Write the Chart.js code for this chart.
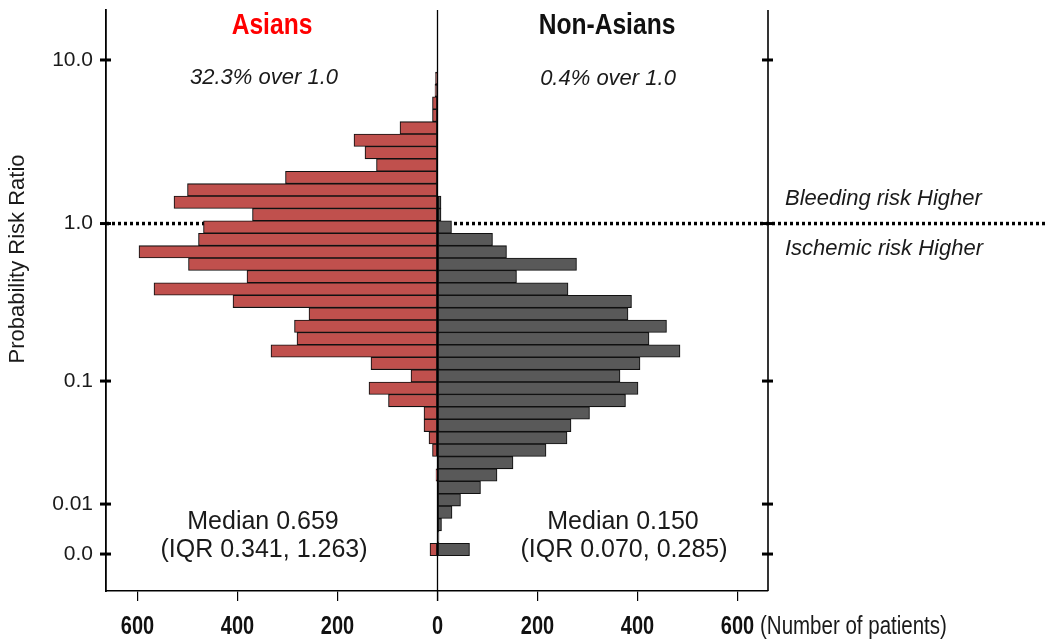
<!DOCTYPE html>
<html>
<head>
<meta charset="utf-8">
<script src="https://cdn.jsdelivr.net/npm/chart.js@4.4.1/dist/chart.umd.min.js"></script>
<style>
  html, body { margin: 0; padding: 0; background: #fff; }
  #wrap { width: 1046px; height: 639px; position: relative; }
</style>
</head>
<body>
<div id="wrap"><canvas id="riskChart"></canvas></div>
<script>
// histogram rows from top (highest risk ratio) to bottom, patient counts per bin
const asians = [4, 5, 10, 10, 75, 167, 145, 122, 304, 500, 527, 370, 468, 478, 597, 498, 381, 567, 409, 257,
  286, 281, 333, 133, 53, 137, 98, 27, 27, 17, 10, 0, 3, 0, 0, 0, 0, 0, 15];
const nonAsians = [0, 0, 0, 0, 0, 0, 0, 0, 0, 0, 7, 7, 28, 110, 138, 278, 158, 261, 388, 381,
  458, 423, 485, 405, 365, 401, 376, 304, 267, 259, 217, 151, 119, 86, 46, 29, 8, 3, 64];

// risk ratio ticks, placed in row units
const yTickPos = [-1.47, 11.72, 24.42, 34.34, 38.37];
const yTickLabels = ["10.0", "1.0", "0.1", "0.01", "0.0"];
const xTickValues = [-600, -400, -200, 0, 200, 400, 600];
const thresholdTick = 11.72;

const FONT = "'Liberation Sans', Arial, Helvetica, sans-serif";

function text(ctx, str, x, y, font, color, align = "center", squeeze = 1) {
  ctx.save();
  ctx.font = font;
  ctx.fillStyle = color;
  ctx.textAlign = align;
  ctx.textBaseline = "middle";
  ctx.translate(x, y);
  ctx.scale(squeeze, 1);
  ctx.fillText(str, 0, 0);
  ctx.restore();
}

const framePlugin = {
  id: "frame",
  beforeDatasetsDraw(chart) {
    const { ctx, chartArea: a, scales } = chart;
    const yy = scales.y.getPixelForValue(thresholdTick);
    ctx.save();
    ctx.strokeStyle = "#000";
    ctx.lineWidth = 3.5;
    ctx.setLineDash([3, 3]);
    ctx.beginPath();
    ctx.moveTo(a.left, yy);
    ctx.lineTo(chart.width, yy);
    ctx.stroke();
    ctx.restore();
  },
  afterDatasetsDraw(chart) {
    const { ctx, chartArea: a, scales } = chart;
    const x0 = scales.x.getPixelForValue(0);
    ctx.save();
    ctx.strokeStyle = "#000";
    ctx.lineWidth = 1.3;
    ctx.beginPath();
    ctx.moveTo(x0, a.top);
    ctx.lineTo(x0, a.bottom + 10);
    ctx.stroke();
    ctx.lineWidth = 1.6;
    ctx.beginPath();
    ctx.moveTo(a.right, a.top);
    ctx.lineTo(a.right, a.bottom);
    ctx.stroke();
    // tick marks crossing both vertical axes
    ctx.lineWidth = 3;
    yTickPos.forEach((v) => {
      const py = scales.y.getPixelForValue(v);
      [a.left, a.right].forEach((ax) => {
        ctx.beginPath();
        ctx.moveTo(ax - 6, py);
        ctx.lineTo(ax + 5, py);
        ctx.stroke();
      });
    });
    ctx.restore();
  },
  afterDraw(chart) {
    const { ctx, chartArea: a, scales } = chart;
    const x = scales.x;
    // condensed bold count labels under the x axis
    x.ticks.forEach((t) => {
      text(ctx, String(Math.abs(t.value)), x.getPixelForValue(t.value), a.bottom + 36,
        `bold 25px ${FONT}`, "#111", "center", 0.8);
    });
    text(ctx, "(Number of patients)", 760, 627, `25px ${FONT}`, "#1a1a1a", "left", 0.82);

    text(ctx, "Asians", x.getPixelForValue(-331), 26, `bold 30px ${FONT}`, "#ff0000", "center", 0.82);
    text(ctx, "Non-Asians", x.getPixelForValue(339), 26, `bold 30px ${FONT}`, "#111", "center", 0.82);
    text(ctx, "32.3% over 1.0", x.getPixelForValue(-347), 78, `italic 22px ${FONT}`, "#1a1a1a");
    text(ctx, "0.4% over 1.0", x.getPixelForValue(341), 79, `italic 22px ${FONT}`, "#1a1a1a");
    text(ctx, "Median 0.659", x.getPixelForValue(-349), 522, `25px ${FONT}`, "#1a1a1a");
    text(ctx, "(IQR 0.341, 1.263)", x.getPixelForValue(-347), 550, `25px ${FONT}`, "#1a1a1a");
    text(ctx, "Median 0.150", x.getPixelForValue(371), 522, `25px ${FONT}`, "#1a1a1a");
    text(ctx, "(IQR 0.070, 0.285)", x.getPixelForValue(373), 550, `25px ${FONT}`, "#1a1a1a");
    text(ctx, "Bleeding risk Higher", 785, 199, `italic 22px ${FONT}`, "#1a1a1a", "left");
    text(ctx, "Ischemic risk Higher", 785, 249, `italic 22px ${FONT}`, "#1a1a1a", "left");

    ctx.save();
    ctx.translate(18, 259);
    ctx.rotate(-Math.PI / 2);
    text(ctx, "Probability Risk Ratio", 0, 0, `22px ${FONT}`, "#1a1a1a");
    ctx.restore();
  },
};

new Chart(document.getElementById("riskChart"), {
  type: "bar",
  data: {
    datasets: [
      {
        label: "Asians",
        data: asians.map((v, row) => ({ x: -v, y: row })),
        backgroundColor: "#c0504d",
      },
      {
        label: "Non-Asians",
        data: nonAsians.map((v, row) => ({ x: v, y: row })),
        backgroundColor: "#595959",
      },
    ],
  },
  options: {
    indexAxis: "y",
    responsive: true,
    maintainAspectRatio: false,
    animation: false,
    layout: { padding: { top: 10, right: 278, left: 0, bottom: 0 } },
    datasets: {
      bar: {
        grouped: false,
        barPercentage: 1,
        categoryPercentage: 1,
        borderColor: "#111",
        borderWidth: 1.1,
        borderSkipped: false,
      },
    },
    plugins: {
      legend: { display: false },
      tooltip: { enabled: false },
    },
    scales: {
      x: {
        type: "linear",
        min: -663,
        max: 661,
        afterBuildTicks: (s) => { s.ticks = xTickValues.map((v) => ({ value: v })); },
        afterFit: (s) => { s.height = 48; s.paddingLeft = 0; s.paddingRight = 0; },
        ticks: { display: false },
        grid: { drawOnChartArea: false, drawTicks: true, tickLength: 10, color: "#000", lineWidth: 1.2 },
        border: { display: true, color: "#000", width: 1.6 },
      },
      y: {
        type: "linear",
        reverse: true,
        offset: false,
        min: -5.5,
        max: 41.35,
        afterBuildTicks: (s) => { s.ticks = yTickPos.map((v) => ({ value: v })); },
        afterFit: (s) => { s.width = 106; s.paddingTop = 0; s.paddingBottom = 0; },
        ticks: {
          callback: (v, i) => yTickLabels[i],
          font: { family: FONT, size: 21 },
          color: "#1a1a1a",
          padding: 13,
          autoSkip: false,
        },
        grid: { display: false, drawTicks: false, offset: false },
        border: { display: true, color: "#000", width: 1.8 },
      },
    },
  },
  plugins: [framePlugin],
});
</script>
</body>
</html>
